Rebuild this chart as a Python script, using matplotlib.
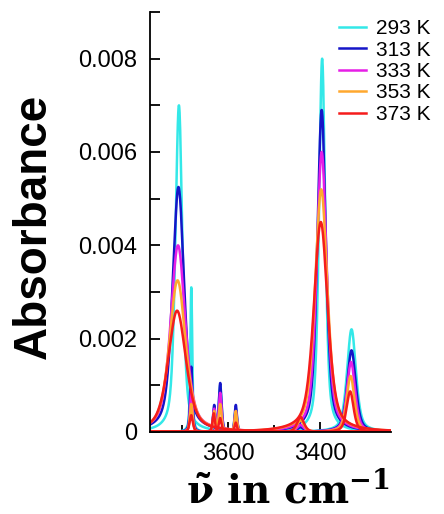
import numpy as np
import matplotlib
matplotlib.use("Agg")
import matplotlib.pyplot as plt
from matplotlib.ticker import MultipleLocator, FuncFormatter

# temperaturas e cores da legenda
temps = [293, 313, 333, 353, 373]
cores = ["#33e8e8", "#1515c8", "#e61ee6", "#ffa82e", "#f51c1c"]

# componentes (um traço por componente e temperatura): centro, altura, meia-largura
cen_a = [3707, 3708, 3709, 3710, 3711]
alt_a = [0.0070, 0.00525, 0.0040, 0.00325, 0.0026]
lar_a = [9, 15, 19, 21, 23]

cen_b = [3680, 3680, 3680, 3680, 3680]
alt_b = [0.0031, 0.0014, 0.0009, 0.0006, 0.00036]
lar_b = [2.5, 3, 3, 3.5, 4]

cen_c = [3630, 3630, 3630, 3630, 3631]
alt_c = [0.0005, 0.00058, 0.0005, 0.00045, 0.0004]
lar_c = [3, 3, 3, 3, 3]

cen_d = [3617, 3617, 3617, 3617, 3617]
alt_d = [0.0010, 0.00105, 0.00084, 0.0006, 0.0003]
lar_d = [3.5, 3.5, 3.5, 3.5, 3.5]

cen_e = [3583, 3583, 3583, 3583, 3583]
alt_e = [0.0005, 0.00058, 0.00045, 0.00045, 0.0002]
lar_e = [3, 3, 3, 3, 3]

cen_f = [3442, 3442, 3442, 3442, 3442]
alt_f = [0.00005, 0.0001, 0.00015, 0.00025, 0.00032]
lar_f = [9, 9, 9, 9, 9]

cen_g = [3395, 3396, 3396, 3397, 3398]
alt_g = [0.0080, 0.0069, 0.0060, 0.0052, 0.0045]
lar_g = [8, 11, 13, 16, 18]

cen_h = [3331, 3331, 3332, 3333, 3334]
alt_h = [0.0022, 0.00175, 0.0015, 0.0012, 0.00087]
lar_h = [11.5, 11, 10.5, 10, 9]

componentes = [
    (cen_a, alt_a, lar_a), (cen_b, alt_b, lar_b), (cen_c, alt_c, lar_c),
    (cen_d, alt_d, lar_d), (cen_e, alt_e, lar_e), (cen_f, alt_f, lar_f),
    (cen_g, alt_g, lar_g), (cen_h, alt_h, lar_h),
]

xmin, xmax = 3770, 3245
nu = np.linspace(xmax, xmin, 4000)


def pvoigt(x, c, h, w, eta=0.55):
    lor = w**2 / ((x - c) ** 2 + w**2)
    gau = np.exp(-np.log(2) * ((x - c) / w) ** 2)
    return h * (eta * lor + (1 - eta) * gau)


fig = plt.figure(figsize=(4.44, 5.14), dpi=100)
ax = fig.add_axes([150 / 444, 1 - 432 / 514, 241 / 444, 420 / 514])

for i, t in enumerate(temps):
    for k, (cen, alt, lar) in enumerate(componentes):
        ax.plot(nu, pvoigt(nu, cen[i], alt[i], lar[i]), color=cores[i], lw=1.8,
                label=f"{t} K" if k == 0 else None)

ax.set_xlim(xmin, xmax)
ax.set_ylim(0, 0.009)
ax.spines["top"].set_visible(False)
ax.spines["right"].set_visible(False)
ax.spines["left"].set_linewidth(1.3)
ax.spines["bottom"].set_linewidth(1.3)

ax.xaxis.set_major_locator(MultipleLocator(200))
ax.xaxis.set_minor_locator(MultipleLocator(100))
ax.yaxis.set_major_locator(MultipleLocator(0.002))
ax.yaxis.set_minor_locator(MultipleLocator(0.001))
ax.yaxis.set_major_formatter(FuncFormatter(lambda v, p: "0" if v == 0 else f"{v:.3f}"))
ax.tick_params(which="both", direction="in", width=1.3)
ax.tick_params(which="major", length=7)
ax.tick_params(which="minor", length=7)
ax.tick_params(axis="x", which="minor", length=5)
ax.tick_params(axis="y", labelsize=17, pad=9)
ax.tick_params(axis="x", labelsize=17, pad=8)
for lb in ax.get_xticklabels() + ax.get_yticklabels():
    lb.set_fontfamily("Liberation Sans")

leg = ax.legend(loc="upper right", bbox_to_anchor=(431 / 444, 1 - 19 / 514),
                bbox_transform=fig.transFigure, frameon=False,
                prop={"family": "Liberation Sans", "size": 15},
                handlelength=1.3, handletextpad=0.5, labelspacing=0.12,
                borderpad=0, borderaxespad=0)

fig.text(34 / 444, 1 - 226 / 514, "Absorbance", rotation=90, ha="center", va="center",
         fontsize=33, fontweight="bold", family="Liberation Sans")

plt.rcParams["mathtext.fontset"] = "custom"
plt.rcParams["mathtext.rm"] = "DejaVu Serif:bold"
plt.rcParams["mathtext.it"] = "DejaVu Serif:bold"
plt.rcParams["mathtext.bf"] = "DejaVu Serif:bold"
fig.text(288 / 444, 1 - 503 / 514, r"$\tilde{\nu}\ \mathrm{in\ cm}^{-1}$",
         ha="center", va="baseline", fontsize=28)

plt.savefig("out.png", dpi=100)
